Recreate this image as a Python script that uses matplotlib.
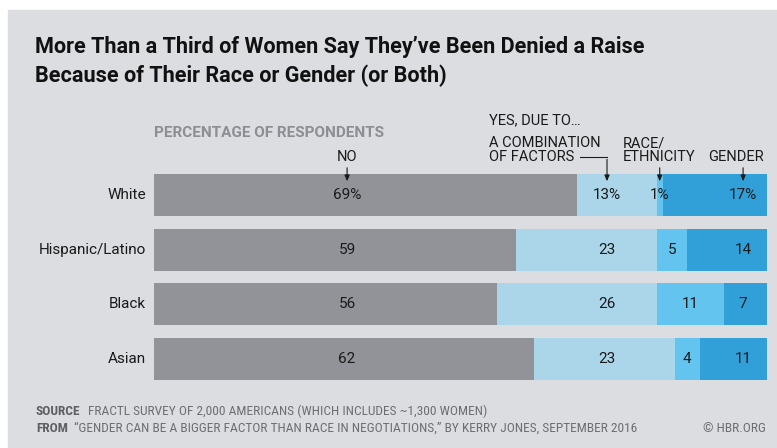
import matplotlib
matplotlib.use("Agg")
import matplotlib.pyplot as plt
from matplotlib.patches import Rectangle
from matplotlib import font_manager

# ---- data -------------------------------------------------------------
groups = ["White", "Hispanic/Latino", "Black", "Asian"]
no_vals = [69, 59, 56, 62]
combo_vals = [13, 23, 26, 23]
race_vals = [1, 5, 11, 4]
gender_vals = [17, 14, 7, 11]

series = [no_vals, combo_vals, race_vals, gender_vals]
colors = ["#929398", "#abd6ea", "#63c4ef", "#31a0d9"]

# label columns (percent units), race labels sit in the segment centre
NO_X, COMBO_X, GENDER_X = 31.5, 73.9, 96.1

BG = "#dcdde1"
avail = {f.name for f in font_manager.fontManager.ttflist}


def pick(*names):
    for n in names:
        if n in avail:
            return n
    return "DejaVu Sans"


TITLE_FONT = pick("Roboto", "Lato")
BODY = pick("Roboto", "Lato")
FOOT_FONT = pick("Roboto Condensed", "Liberation Sans Narrow", "Roboto")

fig = plt.figure(figsize=(7.77, 4.48), dpi=100)
fig.patches.append(Rectangle((8 / 777, 0), 1, (448 - 10) / 448,
                             transform=fig.transFigure, color=BG, zorder=-10))

# axes: 0..100 maps to px 154..767
top_px, bot_px = 167.7, 386.3
ax = fig.add_axes([154 / 777, 1 - bot_px / 448, 613 / 777, (bot_px - top_px) / 448])
ax.set_xlim(0, 100)
ax.set_ylim(len(groups) - 0.5, -0.5)
ax.axis("off")

ypos = list(range(len(groups)))
left = [0] * len(groups)
for vals, col in zip(series, colors):
    ax.barh(ypos, vals, left=left, height=0.77, color=col, edgecolor="none")
    left = [l + v for l, v in zip(left, vals)]

lab = dict(fontsize=11, family=BODY, color="#1a1a1a", ha="center", va="center")
for i in ypos:
    pct = "%" if i == 0 else ""
    ax.text(NO_X, i, f"{no_vals[i]}{pct}", **lab)
    ax.text(COMBO_X, i, f"{combo_vals[i]}{pct}", **lab)
    rc = no_vals[i] + combo_vals[i] + race_vals[i] / 2
    ax.text(rc, i, f"{race_vals[i]}{pct}", **lab)
    ax.text(GENDER_X, i, f"{gender_vals[i]}{pct}", **lab)
    ax.text(-1.3, i, groups[i], fontsize=11, family=BODY, color="#1a1a1a",
            ha="right", va="center")

# ---- header annotations ----------------------------------------------
def py(p):
    return -0.5 + (p - top_px) / 54.67

def px(p):
    return (p - 154) / 6.13

hdr = dict(fontsize=10.5, family=BODY, color="#1a1a1a", clip_on=False)
arrow = dict(arrowstyle="-|>,head_length=0.35,head_width=0.15", color="#1a1a1a", lw=0.8)

ax.text(0, py(133), "PERCENTAGE OF RESPONDENTS", fontsize=11, family=BODY,
        weight="bold", color="#8d8e93", va="center", clip_on=False)
ax.text(NO_X, py(157), "NO", ha="center", va="center", **hdr)
ax.annotate("", xy=(NO_X, py(184)), xytext=(NO_X, py(165)), arrowprops=arrow)

ax.text(px(489), py(120), "YES, DUE TO\u2026", va="center", **hdr)
ax.text(px(489), py(150), "A COMBINATION\nOF FACTORS", va="center",
        linespacing=1.0, **hdr)
ax.plot([px(580), COMBO_X], [py(157), py(157)], color="#1a1a1a", lw=0.8, clip_on=False)
ax.annotate("", xy=(COMBO_X, py(184)), xytext=(COMBO_X, py(156.6)), arrowprops=arrow)

race_x = no_vals[0] + combo_vals[0] + race_vals[0] / 2
ax.text(px(623), py(150), "RACE/\nETHNICITY", va="center", linespacing=1.0, **hdr)
ax.annotate("", xy=(race_x, py(184)), xytext=(race_x, py(165)), arrowprops=arrow)

ax.text(px(708), py(157), "GENDER", va="center", **hdr)
ax.annotate("", xy=(GENDER_X, py(184)), xytext=(GENDER_X, py(165)), arrowprops=arrow)

# ---- title and footer -------------------------------------------------
fig.text(35 / 777, 1 - 47 / 448,
         "More Than a Third of Women Say They\u2019ve Been Denied a Raise",
         fontsize=15.6, family=TITLE_FONT, weight="bold", color="#111111", va="center")
fig.text(35 / 777, 1 - 76 / 448, "Because of Their Race or Gender (or Both)",
         fontsize=15.6, family=TITLE_FONT, weight="bold", color="#111111", va="center")

foot = dict(fontsize=9.6, family=FOOT_FONT, va="center")
fig.text(36 / 777, 1 - 411 / 448, "SOURCE", weight="bold", color="#5d5e62", **foot)
fig.text(88 / 777, 1 - 411 / 448,
         "FRACTL SURVEY OF 2,000 AMERICANS (WHICH INCLUDES ~1,300 WOMEN)",
         color="#6d6e72", **foot)
fig.text(36 / 777, 1 - 428 / 448, "FROM", weight="bold", color="#5d5e62", **foot)
fig.text(74 / 777, 1 - 428 / 448,
         "\u201cGENDER CAN BE A BIGGER FACTOR THAN RACE IN NEGOTIATIONS,\u201d "
         "BY KERRY JONES, SEPTEMBER 2016", color="#6d6e72", **foot)
fig.text(766 / 777, 1 - 428 / 448, "\u00a9 HBR.ORG", ha="right", color="#6d6e72", **foot)

fig.savefig("out.png", dpi=100, facecolor="white")
